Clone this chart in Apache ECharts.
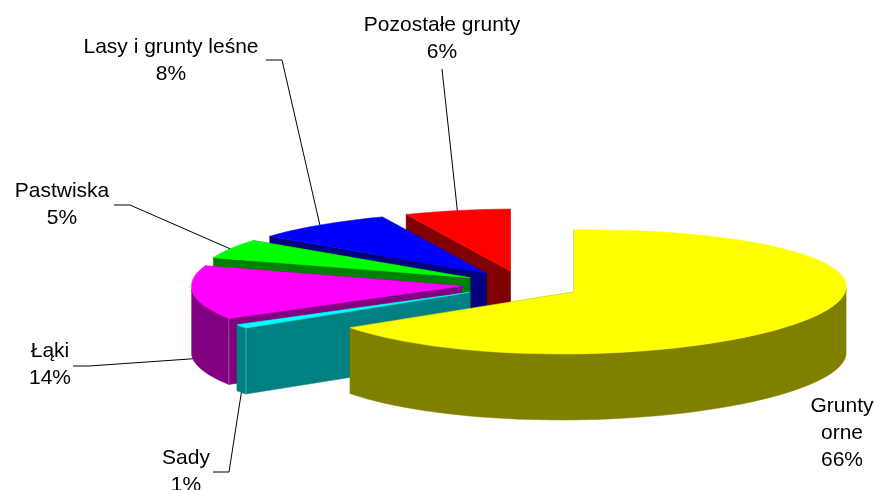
<!DOCTYPE html>
<html>
<head>
<meta charset="utf-8">
<style>
  html, body { margin: 0; background: #fff; }
  #chart { width: 874px; height: 490px; }
</style>
<script src="https://cdn.jsdelivr.net/npm/echarts@6/dist/echarts.min.js"></script>
</head>
<body>
<div id="chart"></div>
<script>
var categories = ['Grunty\norne', 'Sady', 'Łąki', 'Pastwiska', 'Lasy i grunty leśne', 'Pozostałe grunty'];
var shares = [66, 1, 14, 5, 8, 6];
var topColors = ['#ffff00', '#00ffff', '#ff00ff', '#00ff00', '#0000ff', '#ff0000'];
var sideColors = ['#808000', '#008080', '#800080', '#008000', '#000080', '#800000'];
var seamColors = ['#808000', '#4da6a6', '#a64da6', '#008000', '#000080', '#800000'];

// label centre and first line y, then the flat part of the leader
var labelAt = [[842, 406], [186, 458], [50, 351], [62, 191], [171, 47], [442, 25]];
var leaderAt = [null, [[213, 472], [229, 472]], [[73, 366], [89, 366]], [[114, 205], [130, 205]], [[266, 60], [282, 60]], [[442, 69]]];

var CX = 521.5, CY = 285;    // pie centre before the slices are pulled out
var RX = 272, RY = 62;       // top ellipse
var PULL_X = 60, PULL_Y = 14.3;
var DEPTH = 66;
var TILT = 3;
var FONT = '21px "Liberation Sans", Arial, sans-serif';

var total = shares.reduce(function (a, b) { return a + b; }, 0);
var starts = [];
shares.reduce(function (sum, v, i) { starts[i] = sum; return sum + v; }, 0);

function toRad(share) { return share / total * Math.PI * 2; }

// clockwise from 12 o'clock. the Excel pie is not a clean ellipse:
// wider at the back, fuller on the back left, slightly tilted
function rim(apex, a) {
    var sin = Math.sin(a), cos = Math.cos(a);
    var r = RX + 10 * cos;
    if (sin < 0) {
        r -= 2 * sin * sin;
        if (cos > 0) r += 4 * Math.pow(Math.sin(2 * a), 2);
    }
    return [apex[0] + r * sin, apex[1] - RY * cos - TILT * sin];
}

function down(p) { return [p[0], p[1] + DEPTH]; }

function arcPoints(apex, from, to) {
    var pts = [];
    var steps = Math.max(2, Math.ceil((to - from) / 0.05));
    for (var s = 0; s <= steps; s++) {
        pts.push(rim(apex, from + (to - from) * s / steps));
    }
    return pts;
}

function renderSlice(params, api) {
    var i = params.dataIndex;
    var a0 = toRad(starts[i]);
    var a1 = a0 + toRad(api.value(0));
    var mid = (a0 + a1) / 2;
    var apex = [CX + PULL_X * Math.sin(mid), CY - PULL_Y * Math.cos(mid)];
    var z = (shares.length - i) * 10;

    var arc = arcPoints(apex, a0, a1);
    var first = arc[0], last = arc[arc.length - 1];
    var fill = { fill: sideColors[i], stroke: sideColors[i], lineWidth: 0.5 };
    var children = [];

    // side walls first, the top face goes over whatever is hidden
    children.push({ type: 'polygon', z2: z, shape: { points: [apex, first, down(first), down(apex)] }, style: fill });
    children.push({ type: 'polygon', z2: z, shape: { points: [apex, last, down(last), down(apex)] }, style: fill });

    // outer wall only exists on the front half of the ellipse
    var f0 = Math.max(a0, Math.PI / 2), f1 = Math.min(a1, Math.PI * 1.5);
    if (f1 > f0) {
        var front = arcPoints(apex, f0, f1);
        children.push({ type: 'polygon', z2: z + 1, shape: { points: front.concat(front.map(down).reverse()) }, style: fill });
    }

    // thin light edge where the cut face meets the outer wall
    if (Math.cos(a0) < 0) {
        children.push({
            type: 'polyline', z2: z + 1,
            shape: { points: [first, down(first)] },
            style: { fill: null, stroke: seamColors[i], lineWidth: 1 }
        });
    }

    children.push({
        type: 'polygon', z2: z + 2,
        shape: { points: [apex].concat(arc) },
        style: { fill: topColors[i], stroke: topColors[i], lineWidth: 0.5 }
    });

    // leader goes to the rim, on the lower edge for slices in the front half
    if (leaderAt[i]) {
        var end = rim(apex, mid);
        if (Math.cos(mid) < 0) end = down(end);
        children.push({
            type: 'polyline', z2: 100,
            shape: { points: leaderAt[i].concat([end]) },
            style: { fill: null, stroke: '#000', lineWidth: 1 }
        });
    }

    children.push({
        type: 'text', z2: 101,
        style: {
            x: labelAt[i][0], y: labelAt[i][1] - 13,
            text: categories[i] + '\n' + api.value(0) + '%',
            font: FONT, lineHeight: 27, fill: '#000', align: 'center', verticalAlign: 'top'
        }
    });

    return { type: 'group', children: children };
}

var chart = echarts.init(document.getElementById('chart'), null, { renderer: 'canvas' });
chart.setOption({
    animation: false,
    backgroundColor: '#fff',
    series: [{
        type: 'custom',
        coordinateSystem: 'none',
        renderItem: renderSlice,
        data: shares.map(function (v, i) { return { name: categories[i], value: v }; })
    }]
});
</script>
</body>
</html>
